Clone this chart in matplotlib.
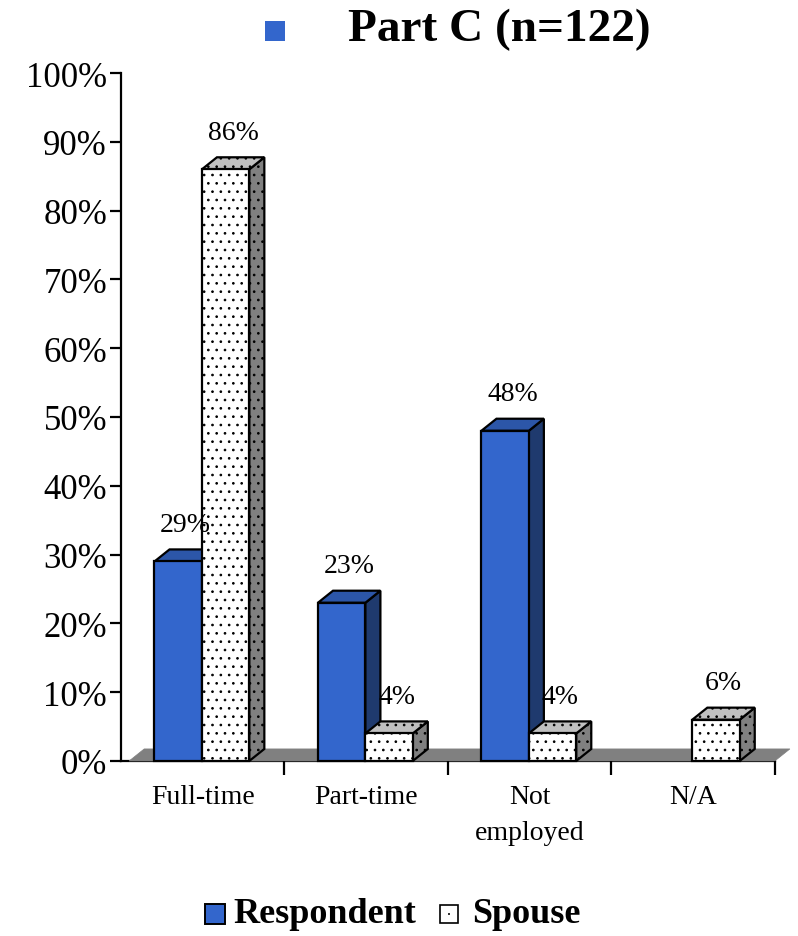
import matplotlib
matplotlib.use("Agg")
import matplotlib.pyplot as plt
from matplotlib.patches import Polygon, Rectangle
import matplotlib as mpl

categories = ["Full-time", "Part-time", "Not\nemployed", "N/A"]
respondent = [29, 23, 48, 0]
spouse = [86, 4, 4, 6]
yticks = [0, 10, 20, 30, 40, 50, 60, 70, 80, 90, 100]
title = "Part C (n=122)"
series_names = ["Respondent", "Spouse"]

SERIF = ["Liberation Serif", "DejaVu Serif"]
mpl.rcParams["hatch.linewidth"] = 0.7
mpl.rcParams["hatch.color"] = "#444444"

fig = plt.figure(figsize=(7.98, 9.37), dpi=100)
ax = fig.add_axes([0.1516, 0.1868, 0.8194, 0.7342])
ax.set_xlim(0, 4)
ax.set_ylim(0, 100)

DX, DY = 0.092, 1.75   # depth offset of the 3D boxes
BW = 0.29               # bar width
OFF = 0.205             # left offset of first bar within a category

# floor slab
floor = Polygon([(0.05, 0), (4, 0), (4 + DX, DY), (0.05 + DX, DY)],
                closed=True, facecolor="#808080", edgecolor="#808080",
                lw=0.5, clip_on=False, zorder=1)
ax.add_patch(floor)


def box(x0, h, front, top, side, hatch=None):
    if h <= 0:
        return
    x1 = x0 + BW
    kw = dict(closed=True, edgecolor="black", lw=1.6, clip_on=False,
              zorder=3, joinstyle="miter")
    ax.add_patch(Polygon([(x1, 0), (x1 + DX, DY), (x1 + DX, h + DY), (x1, h)],
                         facecolor=side, hatch=hatch, **kw))
    ax.add_patch(Polygon([(x0, h), (x0 + DX, h + DY), (x1 + DX, h + DY), (x1, h)],
                         facecolor=top, hatch=hatch, **kw))
    ax.add_patch(Polygon([(x0, 0), (x1, 0), (x1, h), (x0, h)],
                         facecolor=front, hatch=hatch, **kw))


LABEL_FS = 20
for i, (r, s) in enumerate(zip(respondent, spouse)):
    xr = i + OFF
    xs = xr + BW
    box(xr, r, "#3366CC", "#2C56A8", "#1F3A6E")
    box(xs, s, "white", "#C0C0C0", "#808080", hatch="..")
    if r > 0:
        ax.text(xr + BW / 2 + DX / 2, r + DY + 1.8, f"{r}%", ha="center",
                va="bottom", fontsize=LABEL_FS, family=SERIF, zorder=5)
    ax.text(xs + BW / 2 + DX / 2, s + DY + 1.8, f"{s}%", ha="center",
            va="bottom", fontsize=LABEL_FS, family=SERIF, zorder=5)

# axes styling
for side in ("top", "right"):
    ax.spines[side].set_visible(False)
for side in ("left", "bottom"):
    ax.spines[side].set_linewidth(1.6)
    ax.spines[side].set_zorder(0.5)

ax.set_yticks(yticks)
ax.set_yticklabels([f"{v}%" for v in yticks], family=SERIF, fontsize=25)
ax.tick_params(axis="y", length=8, width=1.6, pad=2)

ax.set_xticks([1, 2, 3, 4])
ax.set_xticklabels([])
ax.tick_params(axis="x", length=10, width=1.6, direction="out")
for i, c in enumerate(categories):
    ax.text(i + 0.5, -3.4, c, ha="center", va="top", fontsize=20,
            family=SERIF, linespacing=1.55)

# title with key square
fig.patches.append(Rectangle((265 / 798, 1 - 42 / 937), 20 / 798, 20 / 937,
                             transform=fig.transFigure, facecolor="#3366CC",
                             edgecolor="none"))
fig.text(499 / 798, 1 - 30 / 937, title, ha="center", va="center",
         fontsize=34, fontweight="bold", family=SERIF)

# legend
ly = 1 - 915 / 937
fig.patches.append(Rectangle((205 / 798, ly - 10 / 937), 20 / 798, 20 / 937,
                             transform=fig.transFigure, facecolor="#3366CC",
                             edgecolor="black", lw=1.4))
fig.text(233 / 798, ly, series_names[0], ha="left", va="center",
         fontsize=26, fontweight="bold", family=SERIF)
fig.patches.append(Rectangle((440 / 798, ly - 9 / 937), 18 / 798, 18 / 937,
                             transform=fig.transFigure, facecolor="white",
                             edgecolor="black", lw=1.2))
fig.patches.append(Rectangle((448 / 798, ly - 1 / 937), 2 / 798, 2 / 937,
                             transform=fig.transFigure, facecolor="#333333",
                             edgecolor="none"))
fig.text(472 / 798, ly, series_names[1], ha="left", va="center",
         fontsize=26, fontweight="bold", family=SERIF)

fig.savefig("out.png", dpi=100)
